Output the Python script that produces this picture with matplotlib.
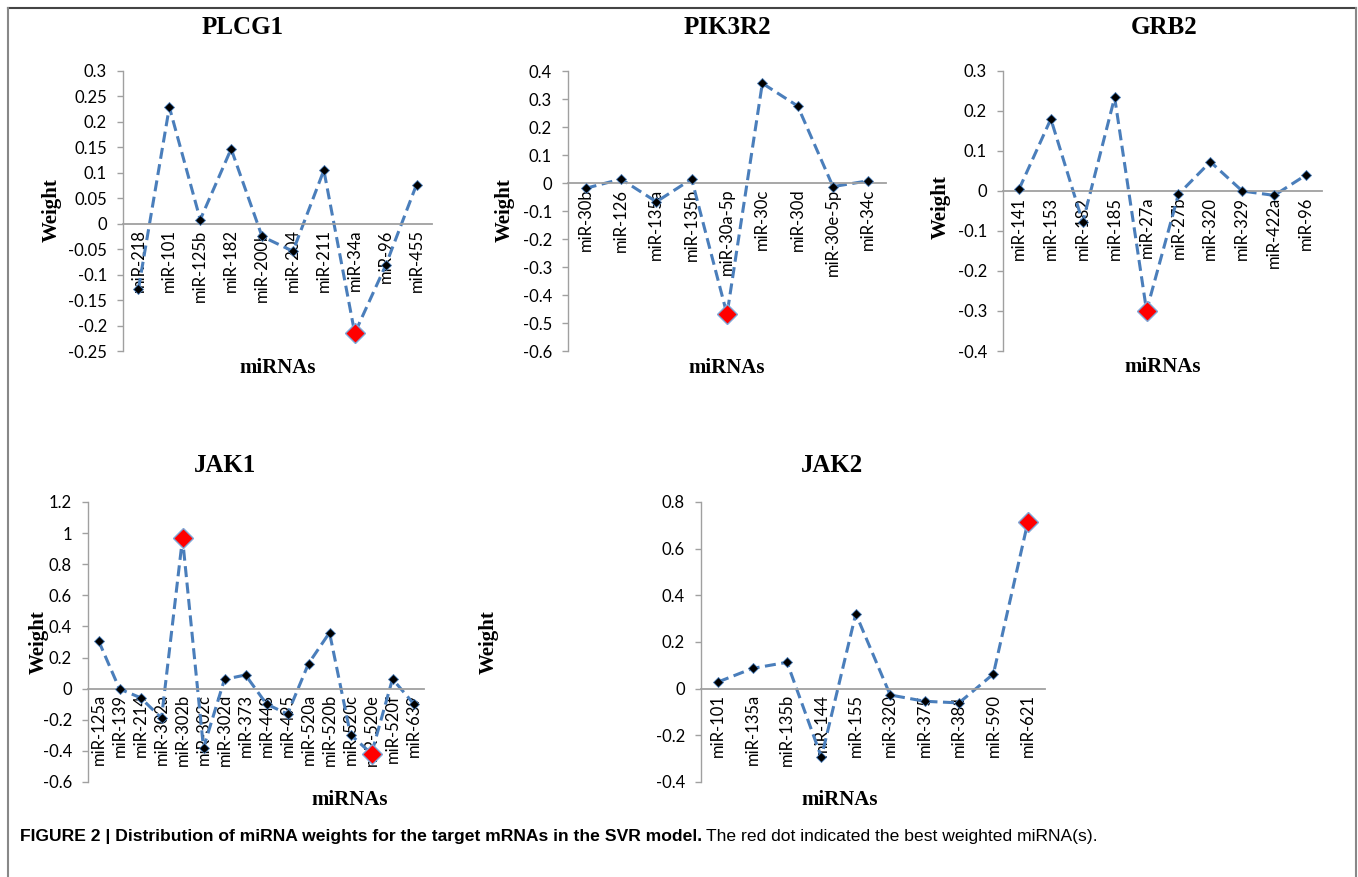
import matplotlib.pyplot as plt
from matplotlib.lines import Line2D
import numpy as np

W, H = 1358, 877

# ---- data ----
plcg1_mirs = ['miR-218', 'miR-101', 'miR-125b', 'miR-182', 'miR-200b',
              'miR-204', 'miR-211', 'miR-34a', 'miR-96', 'miR-455']
plcg1_w = [-0.128, 0.229, 0.008, 0.147, -0.025, -0.054, 0.105, -0.215, -0.082, 0.077]
plcg1_best = ['miR-34a']

pik3r2_mirs = ['miR-30b', 'miR-126', 'miR-135a', 'miR-135b', 'miR-30a-5p',
               'miR-30c', 'miR-30d', 'miR-30e-5p', 'miR-34c']
pik3r2_w = [-0.019, 0.014, -0.067, 0.014, -0.469, 0.356, 0.275, -0.013, 0.008]
pik3r2_best = ['miR-30a-5p']

grb2_mirs = ['miR-141', 'miR-153', 'miR-182', 'miR-185', 'miR-27a',
             'miR-27b', 'miR-320', 'miR-329', 'miR-422a', 'miR-96']
grb2_w = [0.004, 0.18, -0.078, 0.234, -0.299, -0.008, 0.073, 0.0, -0.011, 0.04]
grb2_best = ['miR-27a']

jak1_mirs = ['miR-125a', 'miR-139', 'miR-214', 'miR-302a', 'miR-302b', 'miR-302c',
             'miR-302d', 'miR-373', 'miR-448', 'miR-495', 'miR-520a', 'miR-520b',
             'miR-520c', 'miR-520e', 'miR-520f', 'miR-639']
jak1_w = [0.309, -0.002, -0.058, -0.189, 0.966, -0.381, 0.06, 0.088, -0.099,
          -0.163, 0.161, 0.36, -0.296, -0.418, 0.062, -0.096]
jak1_best = ['miR-302b', 'miR-520e']

jak2_mirs = ['miR-101', 'miR-135a', 'miR-135b', 'miR-144', 'miR-155',
             'miR-320', 'miR-375', 'miR-381', 'miR-590', 'miR-621']
jak2_w = [0.029, 0.087, 0.113, -0.294, 0.321, -0.027, -0.054, -0.061, 0.063, 0.713]
jak2_best = ['miR-621']

line_blue = '#4A7EBB'
axis_gray = '#A0A0A0'
serif = 'Liberation Serif'
tick_font = 'Lato'

fig = plt.figure(figsize=(W / 100, H / 100), dpi=100)


def px_axes(x0, y0, x1, y1):
    return fig.add_axes([x0 / W, 1 - y1 / H, (x1 - x0) / W, (y1 - y0) / H])


def panel(box, mirs, weights, best, yticks, title, title_xy, ylab_xy, xlab_xy):
    ax = px_axes(*box)
    # move the category axis onto y=0 first (this resets the ticks)
    for s in ['top', 'right']:
        ax.spines[s].set_visible(False)
    ax.spines['bottom'].set_position(('data', 0))
    ax.spines['bottom'].set_color(axis_gray)
    ax.spines['bottom'].set_linewidth(1.3)
    ax.spines['left'].set_color(axis_gray)
    ax.spines['left'].set_linewidth(1.0)

    x = np.arange(len(mirs))
    ax.plot(x, weights, ls=(0, (3.6, 1.8)), color=line_blue, lw=2.2, zorder=2)
    ax.plot(x, weights, ls='none', marker='D', ms=5.5, mfc='black',
            mec=line_blue, mew=0.6, zorder=3)
    bi = [mirs.index(b) for b in best]
    ax.plot(x[bi], np.array(weights)[bi], ls='none', marker='D', ms=10.5,
            mfc='red', mec='#7FA8D8', mew=1.0, zorder=4)

    ax.set_xlim(-0.5, len(mirs) - 0.5)
    ax.set_ylim(yticks[0], yticks[-1])
    ax.set_yticks(yticks)
    ax.set_yticklabels([('%g' % t) for t in yticks], fontfamily=tick_font, fontsize=12)
    ax.set_xticks(x)
    ax.set_xticklabels(mirs, rotation=90, fontfamily=tick_font, fontsize=12, va='top')

    ax.tick_params(axis='y', direction='out', length=4.5, width=1.0, color=axis_gray, pad=7)
    ax.tick_params(axis='x', length=0, pad=4)
    ax.set_facecolor('none')

    fig.text(title_xy[0] / W, 1 - title_xy[1] / H, title, ha='center', va='center',
             fontfamily=serif, fontweight='bold', fontsize=18)
    fig.text(ylab_xy[0] / W, 1 - ylab_xy[1] / H, 'Weight', ha='center', va='center',
             rotation=90, fontfamily=serif, fontweight='bold', fontsize=15)
    fig.text(xlab_xy[0] / W, 1 - xlab_xy[1] / H, 'miRNAs', ha='center', va='center',
             fontfamily=serif, fontweight='bold', fontsize=15)
    return ax


panel((123, 71, 432, 351), plcg1_mirs, plcg1_w, plcg1_best,
      [-0.25, -0.2, -0.15, -0.1, -0.05, 0, 0.05, 0.1, 0.15, 0.2, 0.25, 0.3],
      'PLCG1', (243, 28), (52, 210), (278, 368))
panel((568, 71, 886, 351), pik3r2_mirs, pik3r2_w, pik3r2_best,
      [-0.6, -0.5, -0.4, -0.3, -0.2, -0.1, 0, 0.1, 0.2, 0.3, 0.4],
      'PIK3R2', (727, 28), (505, 210), (727, 368))
panel((1003, 71, 1322, 351), grb2_mirs, grb2_w, grb2_best,
      [-0.4, -0.3, -0.2, -0.1, 0, 0.1, 0.2, 0.3],
      'GRB2', (1164, 28), (941, 207), (1163, 367))
panel((88, 502, 424, 782), jak1_mirs, jak1_w, jak1_best,
      [-0.6, -0.4, -0.2, 0, 0.2, 0.4, 0.6, 0.8, 1, 1.2],
      'JAK1', (225, 465), (39, 642), (350, 800))
panel((701, 502, 1045, 782), jak2_mirs, jak2_w, jak2_best,
      [-0.4, -0.2, 0, 0.2, 0.4, 0.6, 0.8],
      'JAK2', (832, 465), (489, 642), (840, 800))

# caption: bold lead then regular text
cap_y = 1 - 837 / H
t1 = fig.text(20 / W, cap_y, 'FIGURE 2 | Distribution of miRNA weights for the target mRNAs in the SVR model.',
              ha='left', va='center', fontfamily='Liberation Sans', fontweight='bold', fontsize=12.6)
fig.canvas.draw()
bb = t1.get_window_extent()
fig.text((bb.x1 + 4) / W, cap_y, 'The red dot indicated the best weighted miRNA(s).',
         ha='left', va='center', fontfamily='Liberation Sans', fontsize=12.6)

# frame around the figure (open at bottom)
fig.add_artist(Line2D([7.5 / W, 1356 / W], [1 - 8 / H, 1 - 8 / H], color='#444444', lw=1.5))
fig.add_artist(Line2D([7.5 / W, 7.5 / W], [0, 1 - 8 / H], color='#888888', lw=1.5))
fig.add_artist(Line2D([1356 / W, 1356 / W], [0, 1 - 8 / H], color='#888888', lw=1.5))

fig.savefig('out.png', dpi=100)
